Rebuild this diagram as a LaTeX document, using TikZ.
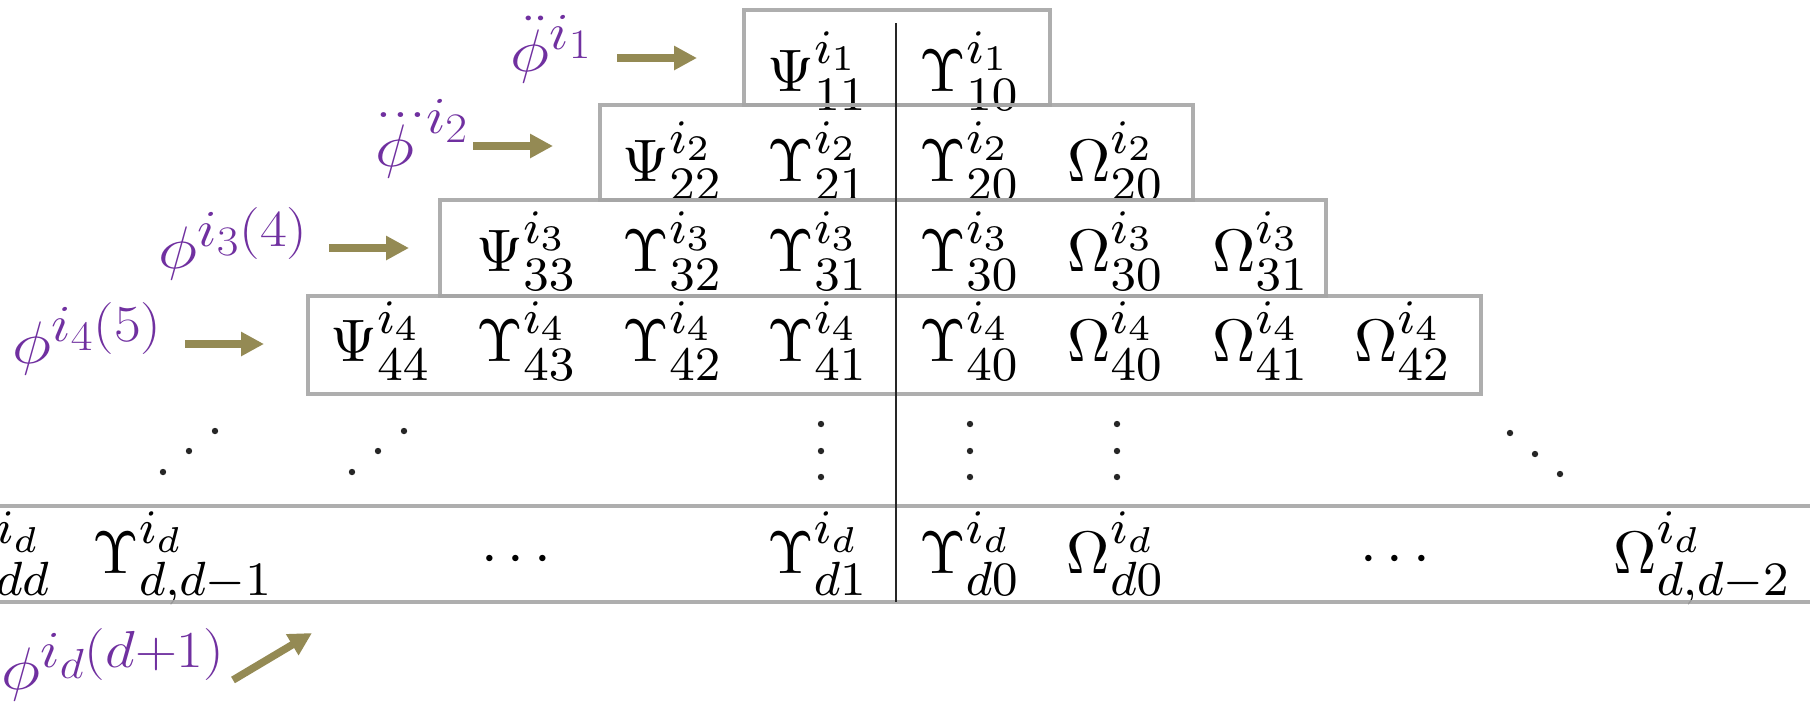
\RequirePackage{fix-cm}
\documentclass[tikz,border=0pt]{standalone}
\usepackage{amsmath}
\usepackage{graphicx}
\usetikzlibrary{arrows.meta}
\DeclareMathSizes{30}{30}{26}{21}
\DeclareMathSizes{10}{10}{8}{6}
\definecolor{labpurple}{HTML}{7030A0}
\definecolor{arrolive}{HTML}{948A54}
\definecolor{boxgray}{HTML}{A6A6A6}
\newcommand{\mth}[1]{\scalebox{3.0}{$#1$}}
\newcommand{\lbl}[1]{\scalebox{1.12}[1]{$#1$}}
\begin{document}
\begin{tikzpicture}[x=0.5pt,y=-0.5pt,
  ent/.style={anchor=base,inner sep=0pt,font=\fontsize{10}{12}\selectfont},
  entw/.style={ent,anchor=base west},
  ente/.style={ent,anchor=base east},
  lab/.style={anchor=base west,inner sep=0pt,text=labpurple,font=\fontsize{30}{36}\selectfont},
  blk/.style={draw=arrolive,line width=3.75pt,-{Triangle[length=11.5pt,width=11.5pt]}},
  rowbox/.style={draw=boxgray,line width=2pt,draw opacity=0.9},
  dotc/.style={fill=black!85}]
\useasboundingbox (0,0) rectangle (1810,703);
\fill[white] (0,0) rectangle (1810,703);
\clip (0,0) rectangle (1810,703);

% row 1
\node[ent] (p11) at (818,91) {\mth{\Psi^{i_1}_{11}}};
\node[ent] (u10) at (970,91) {\mth{\Upsilon^{i_1}_{10}}};
% row 2
\node[ent] (p22) at (673,181) {\mth{\Psi^{i_2}_{22}}};
\node[ent] (u21) at (818,181) {\mth{\Upsilon^{i_2}_{21}}};
\node[ent] (u20) at (970,181) {\mth{\Upsilon^{i_2}_{20}}};
\node[ent] (o20) at (1116,181) {\mth{\Omega^{i_2}_{20}}};
% row 3
\node[ent] (p33) at (527,271) {\mth{\Psi^{i_3}_{33}}};
\node[ent] (u32) at (673,271) {\mth{\Upsilon^{i_3}_{32}}};
\node[ent] (u31) at (818,271) {\mth{\Upsilon^{i_3}_{31}}};
\node[ent] (u30) at (970,271) {\mth{\Upsilon^{i_3}_{30}}};
\node[ent] (o30) at (1116,271) {\mth{\Omega^{i_3}_{30}}};
\node[ent] (o31) at (1261,271) {\mth{\Omega^{i_3}_{31}}};
% row 4
\node[ent] (p44) at (381,361) {\mth{\Psi^{i_4}_{44}}};
\node[ent] (u43) at (527,361) {\mth{\Upsilon^{i_4}_{43}}};
\node[ent] (u42) at (673,361) {\mth{\Upsilon^{i_4}_{42}}};
\node[ent] (u41) at (818,361) {\mth{\Upsilon^{i_4}_{41}}};
\node[ent] (u40) at (970,361) {\mth{\Upsilon^{i_4}_{40}}};
\node[ent] (o40) at (1116,361) {\mth{\Omega^{i_4}_{40}}};
\node[ent] (o41) at (1261,361) {\mth{\Omega^{i_4}_{41}}};
\node[ent] (o42) at (1403,361) {\mth{\Omega^{i_4}_{42}}};
% bottom row
\node[ente] (pdd) at (52,573) {\mth{\Psi^{i_d}_{dd}}};
\node[entw] (udd) at (92,573) {\mth{\Upsilon^{i_d}_{d,d-1}}};
\node[ent] (cdl) at (521,573) {\mth{\cdots}};
\node[ent] (ud1) at (818,573) {\mth{\Upsilon^{i_d}_{d1}}};
\node[ent] (ud0) at (970,573) {\mth{\Upsilon^{i_d}_{d0}}};
\node[ent] (od0) at (1116,573) {\mth{\Omega^{i_d}_{d0}}};
\node[ent] (cdr) at (1400,573) {\mth{\cdots}};
\node[entw] (odd) at (1613,573) {\mth{\Omega^{i_d}_{d,d-2}}};

% dots row
\foreach \x/\y in {163/472,189/451,215/431,352/472,378/451,404/431,
                   821/424,821/451,821/477,970/424,970/451,970/477,
                   1117/424,1117/451,1117/477,1510/433,1535/454,1560/474}
  \fill[dotc] (\x,\y) circle (3.2);

% boxes
\draw[rowbox] (744,10) rectangle (1050,105);
\draw[rowbox] (600,105) rectangle (1193,200);
\draw[rowbox] (440,200) rectangle (1326,296);
\draw[rowbox] (308,296) rectangle (1481,394);
\draw[rowbox] (-10,506) -- (1820,506);
\draw[rowbox] (-10,601.5) -- (1820,601.5);
\draw[line width=1.3pt,black!85] (896,23) -- (896,602);

% labels
\node[lab] (l1) at (510,71) {\lbl{\ddot{\phi}^{i_1}}};
\node[lab] (l2) at (364,166) {\lbl{\dddot{\phi}^{i_2}}};
\node[lab] (l3) at (158,268) {\lbl{\phi^{i_3(4)}}};
\node[lab] (l4) at (12,363) {\lbl{\phi^{i_4(5)}}};
\node[lab] (l5) at (1,689) {\lbl{\phi^{i_d(d+1)}}};

% arrows
\coordinate (a1s) at (617,58);  \coordinate (a1e) at (697,58);
\coordinate (a2s) at (473,146); \coordinate (a2e) at (553,146);
\coordinate (a3s) at (329,248); \coordinate (a3e) at (409,248);
\coordinate (a4s) at (185,344); \coordinate (a4e) at (264,344);
\coordinate (a5s) at (233,680); \coordinate (a5e) at (312,633);
\draw[blk] (a1s) -- (a1e);
\draw[blk] (a2s) -- (a2e);
\draw[blk] (a3s) -- (a3e);
\draw[blk] (a4s) -- (a4e);
\draw[blk] (a5s) -- (a5e);
\end{tikzpicture}
\end{document}
